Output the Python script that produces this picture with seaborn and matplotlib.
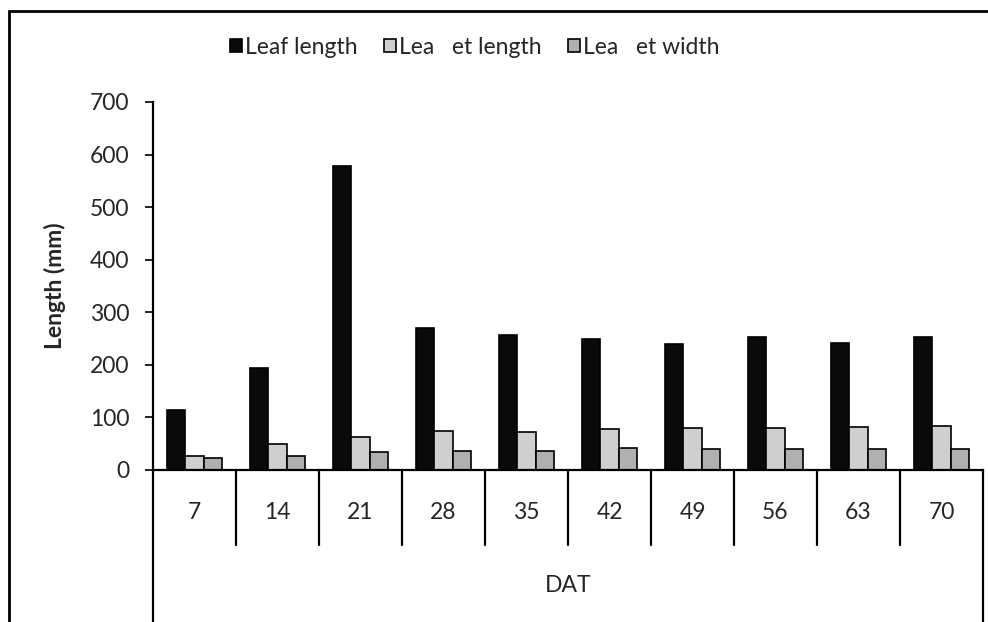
import matplotlib
matplotlib.use("Agg")
import matplotlib.pyplot as plt
import seaborn as sns
import pandas as pd
from matplotlib.lines import Line2D
from matplotlib.patches import Patch

# ---- data ----
dat = ["7", "14", "21", "28", "35", "42", "49", "56", "63", "70"]
series_names = ["Leaf length", "Lea   et length", "Lea   et width"]
leaf_length = [114, 194, 578, 270, 257, 250, 240, 253, 242, 253]
leaflet_length = [27, 49, 63, 74, 72, 78, 80, 80, 82, 84]
leaflet_width = [23, 27, 34, 36, 36, 42, 40, 40, 40, 40]
y_ticks = [0, 100, 200, 300, 400, 500, 600, 700]

rows = []
for name, vals in zip(series_names, [leaf_length, leaflet_length, leaflet_width]):
    for d, v in zip(dat, vals):
        rows.append({"DAT": d, "Length (mm)": v, "series": name})
df = pd.DataFrame(rows)

sns.set_theme(style="white")
plt.rcParams["font.family"] = ["Lato", "DejaVu Sans"]

colors = ["#0a0a0a", "#cfcfcf", "#b0b0b0"]
FS = 16.5

fig = plt.figure(figsize=(9.88, 6.22), dpi=100)
W, H = 988, 622
ax = fig.add_axes([153 / W, (H - 470) / H, (983 - 153) / W, (470 - 102) / H])

sns.barplot(data=df, x="DAT", y="Length (mm)", hue="series", order=dat,
            hue_order=series_names, palette=colors, width=0.66, gap=0,
            edgecolor="black", linewidth=1.2, saturation=1, ax=ax, legend=False)

ax.set_ylim(0, 700)
ax.set_xlim(-0.5, len(dat) - 0.5)
ax.set_yticks(y_ticks)
ax.set_yticklabels([str(t) for t in y_ticks], fontsize=FS)
ax.tick_params(axis="y", direction="out", length=6, width=1.2, color="black", pad=11, left=True)
ax.tick_params(axis="x", length=0, pad=23, labelsize=FS)

for side in ["top", "right"]:
    ax.spines[side].set_visible(False)
for side in ["left", "bottom"]:
    ax.spines[side].set_color("black")
    ax.spines[side].set_linewidth(1.6)

# category table lines
trans = ax.get_xaxis_transform()
for k in range(1, len(dat)):
    ax.plot([k - 0.5, k - 0.5], [0, -0.204], transform=trans, color="black",
            lw=1.6, clip_on=False)
for xx in [-0.5, len(dat) - 0.5]:
    ax.plot([xx, xx], [0, -0.42], transform=trans, color="black",
            lw=1.6, clip_on=False)

ax.set_xlabel("DAT", fontsize=FS)
ax.xaxis.set_label_coords(0.5, -0.3125)
ax.xaxis.label.set_va("center")
ax.set_ylabel("Length (mm)", fontsize=FS, fontweight="bold")
ax.yaxis.set_label_coords(-0.118, 0.5)
ax.yaxis.label.set_va("center")

# legend
handles = [Patch(facecolor=c, edgecolor="black", linewidth=1.2) for c in colors]
fig.legend(handles, series_names, loc="center", bbox_to_anchor=(475 / W, 1 - 47 / H),
           ncol=3, frameon=False, fontsize=FS, handlelength=0.5, handleheight=0.5,
           handletextpad=0.15, columnspacing=1.15)

# outer chart border
fig.add_artist(Line2D([9 / W, 9 / W], [0, 1 - 11 / H], transform=fig.transFigure,
                      color="black", lw=2))
fig.add_artist(Line2D([9 / W, 1], [1 - 11 / H, 1 - 11 / H], transform=fig.transFigure,
                      color="black", lw=2))

fig.savefig("out.png", dpi=100)
